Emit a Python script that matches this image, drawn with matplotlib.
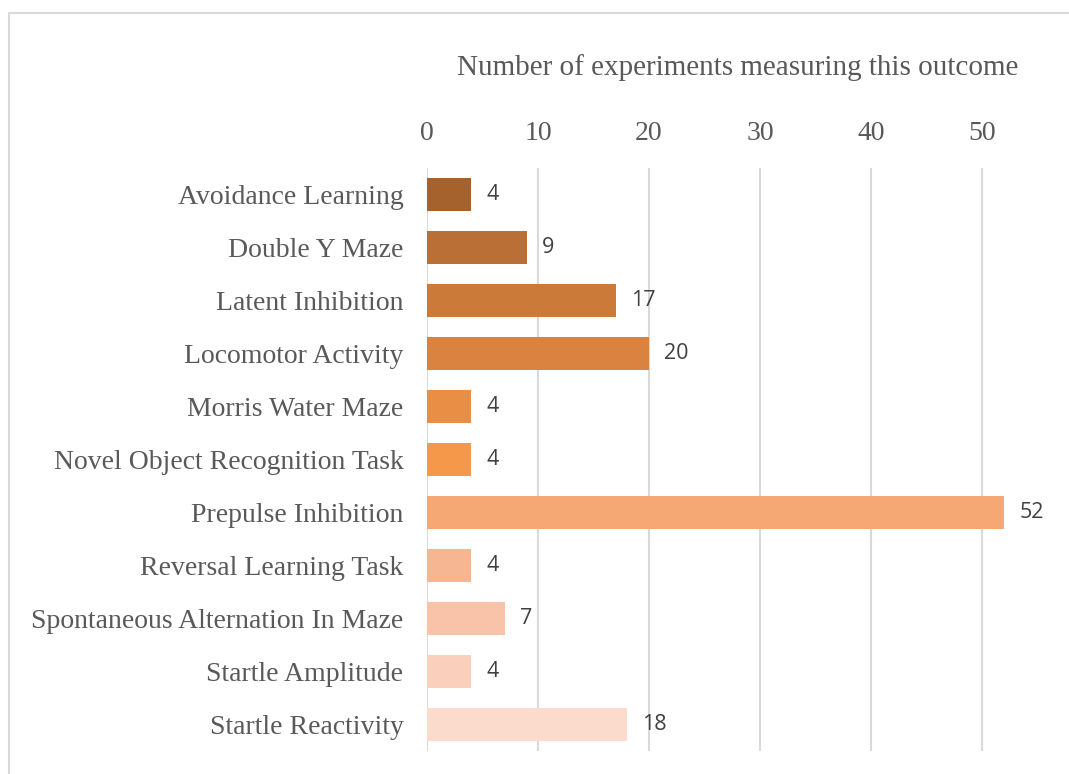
import matplotlib
matplotlib.use("Agg")
import matplotlib.pyplot as plt
from matplotlib.patches import Rectangle

categories = [
    "Avoidance Learning", "Double Y Maze", "Latent Inhibition", "Locomotor Activity",
    "Morris Water Maze", "Novel Object Recognition Task", "Prepulse Inhibition",
    "Reversal Learning Task", "Spontaneous Alternation In Maze", "Startle Amplitude",
    "Startle Reactivity",
]
values = [4, 9, 17, 20, 4, 4, 52, 4, 7, 4, 18]
colors = ["#A5622C", "#B96F35", "#CB7A3A", "#DA8240", "#E88E45", "#F5984A",
          "#F5A873", "#F7B692", "#F8C3A8", "#FAD0BD", "#FBDBCC"]
xticks = [0, 10, 20, 30, 40, 50]
title = "Number of experiments measuring this outcome"

W, H = 1069, 774
fig = plt.figure(figsize=(W / 100, H / 100), dpi=100)

# chart frame
fig.patches.append(Rectangle((8.5 / W, -0.1), 1.2, 1 - 13.5 / H + 0.1,
                             transform=fig.transFigure, fill=False,
                             edgecolor="#D9D9D9", linewidth=1.5))

left, right = 427 / W, 1093 / W
top, bottom = 1 - 168 / H, 1 - 751 / H
ax = fig.add_axes([left, bottom, right - left, top - bottom])

y = list(range(len(categories)))
ax.barh(y, values, height=0.64, color=colors, zorder=3)
ax.set_ylim(len(categories) - 0.5, -0.5)
ax.set_xlim(0, 60)
ax.set_xticks(xticks)
ax.xaxis.tick_top()
ax.tick_params(axis="x", length=0, pad=16, labelsize=20, labelcolor="#595959")
ax.tick_params(axis="y", length=0, pad=17, labelsize=20, labelcolor="#595959")
ax.set_yticks(y)
ax.set_yticklabels(categories)
for lbl in ax.get_xticklabels() + ax.get_yticklabels():
    lbl.set_fontfamily("Liberation Serif")
ax.grid(axis="x", color="#D9D9D9", linewidth=1.5, zorder=0)
for s in ax.spines.values():
    s.set_visible(False)

for yi, v in zip(y, values):
    ax.annotate(str(v), (v, yi), xytext=(11, 0), textcoords="offset points",
                va="center", ha="left", fontsize=15.5,
                color="#404040", family="Open Sans")

fig.text(738 / W, 1 - 68 / H, title, ha="center", va="center", fontsize=21,
         color="#595959", family="Liberation Serif")

fig.savefig("out.png", dpi=100)
